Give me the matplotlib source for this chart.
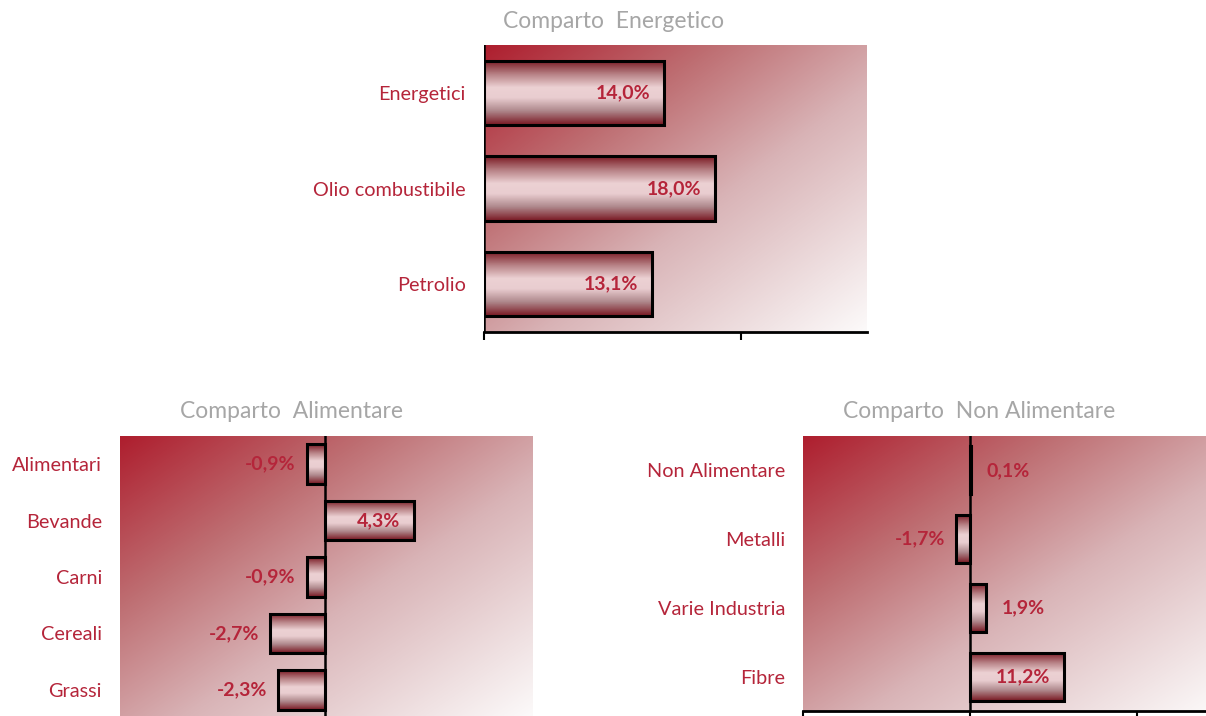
import numpy as np
import matplotlib
matplotlib.use("Agg")
import matplotlib.pyplot as plt
from matplotlib.colors import LinearSegmentedColormap

plt.rcParams['font.family'] = ['Lato', 'DejaVu Sans']

# --- data ---------------------------------------------------------------
energy_cats = ["Energetici", "Olio combustibile", "Petrolio"]
energy_vals = [14.0, 18.0, 13.1]

food_cats = ["Alimentari", "Bevande", "Carni", "Cereali", "Grassi"]
food_vals = [-0.9, 4.3, -0.9, -2.7, -2.3]

nonfood_cats = ["Non Alimentare", "Metalli", "Varie Industria", "Fibre"]
nonfood_vals = [0.1, -1.7, 1.9, 11.2]

titles = ["Comparto  Energetico", "Comparto  Alimentare", "Comparto  Non Alimentare"]

# --- styling ------------------------------------------------------------
RED = "#B5253A"
GREY = "#A6A6A6"

bg_cmap = LinearSegmentedColormap.from_list(
    "bg", [(0.0, "#AE1E2E"), (0.3, "#BE6E72"), (0.58, "#D9B4B7"), (1.0, "#FCFAFA")])
bar_cmap = LinearSegmentedColormap.from_list(
    "bar", [(0.0, "#7A1A24"), (0.22, "#B98488"), (0.42, "#ECD1D3"),
            (0.58, "#E9CDD0"), (0.78, "#B08A8E"), (1.0, "#7A1A24")])


def fmt(v):
    return f"{v:.1f}%".replace(".", ",")


def background(ax):
    yy, xx = np.mgrid[0:1:200j, 0:1:200j]
    # diagonal gradient: dark corner top-left, light corner bottom-right
    g = (xx + yy) / 2.0
    ax.imshow(g, cmap=bg_cmap, extent=[0, 1, 0, 1], origin="upper",
              transform=ax.transAxes, aspect="auto", zorder=0,
              interpolation="bilinear")


def draw_panel(ax, cats, vals, xlim, xticks, height, inside_min, show_bottom):
    n = len(cats)
    ypos = np.arange(n)
    ax.set_xlim(*xlim)
    ax.set_ylim(n - 0.5, -0.5)
    background(ax)
    bars = ax.barh(ypos, vals, height=height, facecolor="none",
                   edgecolor="black", linewidth=2.2, zorder=3)
    grad = np.linspace(0, 1, 100).reshape(-1, 1)
    for b in bars:
        x0, y0 = b.get_x(), b.get_y()
        w, h = b.get_width(), b.get_height()
        im = ax.imshow(grad, cmap=bar_cmap, aspect="auto",
                       extent=[x0, x0 + w, y0 + h, y0], zorder=2,
                       interpolation="bilinear")
        im.set_clip_path(b)
    ax.set_xlim(*xlim)
    ax.set_ylim(n - 0.5, -0.5)
    ax.axvline(0, color="black", lw=1.8, zorder=4)

    for y, v in zip(ypos, vals):
        if abs(v) >= inside_min:
            ax.annotate(fmt(v), (v, y), xytext=(-10 if v > 0 else 10, 0),
                        textcoords="offset points",
                        ha="right" if v > 0 else "left", va="center",
                        color=RED, fontsize=14, fontweight="bold", zorder=5)
        else:
            ax.annotate(fmt(v), (v, y), xytext=(11 if v >= 0 else -8, 0),
                        textcoords="offset points",
                        ha="left" if v >= 0 else "right", va="center",
                        color=RED, fontsize=14, fontweight="bold", zorder=5)

    ax.set_yticks(ypos)
    ax.set_yticklabels(cats, color=RED, fontsize=14.3)
    ax.tick_params(axis="y", length=0, pad=13)
    ax.set_xticks(xticks)
    ax.set_xticklabels([])
    ax.tick_params(axis="x", length=6, width=1.5, color="black", direction="out")
    for s in ("left", "right", "top"):
        ax.spines[s].set_visible(False)
    ax.spines["bottom"].set_visible(show_bottom)
    ax.spines["bottom"].set_linewidth(2.0)
    if not show_bottom:
        ax.tick_params(axis="x", length=0)


fig = plt.figure(figsize=(12.06, 7.16), dpi=100)

ax1 = fig.add_axes([484 / 1206, 1 - 332 / 716, 383 / 1206, 287 / 716])
draw_panel(ax1, energy_cats, energy_vals, (0, 29.8), [0, 20], 0.67, 5, True)

ax2 = fig.add_axes([120 / 1206, 1 - 718 / 716, 413 / 1206, 282 / 716])
draw_panel(ax2, food_cats, food_vals, (-10, 10.1), [-10, 0, 10], 0.7, 3.5, False)

ax3 = fig.add_axes([803 / 1206, 1 - 711 / 716, 418 / 1206, 275 / 716])
draw_panel(ax3, nonfood_cats, nonfood_vals, (-20, 30), [-20, 0, 20], 0.7, 5, True)

fig.text(614 / 1206, 1 - 22 / 716, titles[0], ha="center", va="center",
         color=GREY, fontsize=16.5)
fig.text(292 / 1206, 1 - 411 / 716, titles[1], ha="center", va="center",
         color=GREY, fontsize=16.5)
fig.text(979 / 1206, 1 - 411 / 716, titles[2], ha="center", va="center",
         color=GREY, fontsize=16.5)

fig.savefig("out.png", dpi=100)
